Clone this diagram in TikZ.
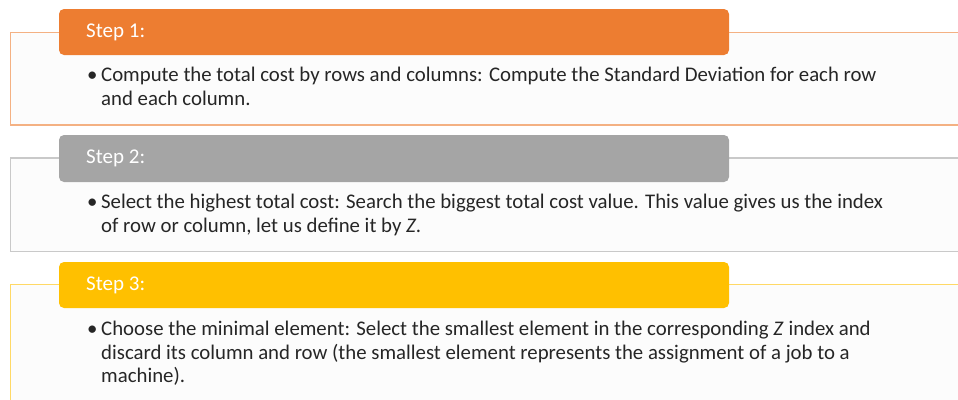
\documentclass[tikz,border=0pt]{standalone}
\usepackage{fontspec}
\setmainfont{Carlito}
\definecolor{orgH}{HTML}{ED7D31}
\definecolor{orgL}{HTML}{F4B183}
\definecolor{gryH}{HTML}{A5A5A5}
\definecolor{gryL}{HTML}{C9C9C9}
\definecolor{yelH}{HTML}{FFC000}
\definecolor{yelL}{HTML}{FFD966}
\definecolor{bodyfill}{HTML}{FCFCFC}
\definecolor{txt}{HTML}{262626}
\newcommand{\bul}{\makebox[14pt][l]{\textbullet}}
\tikzset{
  panel/.style={draw=#1, line width=1.2pt, fill=bodyfill},
  header/.style={fill=#1, draw=none, rounded corners=5pt},
  steplabel/.style={anchor=west, text=white, font=\fontsize{21}{24}\selectfont, inner sep=0pt},
  bodytext/.style={anchor=north west, text=txt, font=\fontsize{20.8}{23.6}\selectfont, inner sep=0pt, align=left},
}
\begin{document}
\begin{tikzpicture}[x=1pt,y=-1pt]
\useasboundingbox (0,0) rectangle (958,399);
\begin{scope}
\clip (0,0) rectangle (958,399);
% panel 1
\path[panel=orgL] (10.5,32.5) rectangle (975,125);
\path[header=orgH] (59,9) rectangle (729,55);
\node[steplabel] (s1) at (86,32) {Step 1:};
\node[bodytext] (b1) at (87,67) {\bul Compute the total cost by rows and columns: Compute the Standard Deviation for each row\\\hspace{14pt}and each column.};
% panel 2
\path[panel=gryL] (10.5,158) rectangle (975,251.5);
\path[header=gryH] (59,135) rectangle (729,182);
\node[steplabel] (s2) at (86,158) {Step 2:};
\node[bodytext] (b2) at (87,194) {\bul Select the highest total cost: Search the biggest total cost value. This value gives us the index\\\hspace{14pt}of row or column, let us define it by \textit{Z}.};
% panel 3
\path[panel=yelL] (10.5,284.5) rectangle (975,420);
\path[header=yelH] (59,262) rectangle (729,308);
\node[steplabel] (s3) at (86,285) {Step 3:};
\node[bodytext] (b3) at (87,321) {\bul Choose the minimal element: Select the smallest element in the corresponding \textit{Z} index and\\\hspace{14pt}discard its column and row (the smallest element represents the assignment of a job to a\\\hspace{14pt}machine).};
\end{scope}
\end{tikzpicture}
\end{document}
